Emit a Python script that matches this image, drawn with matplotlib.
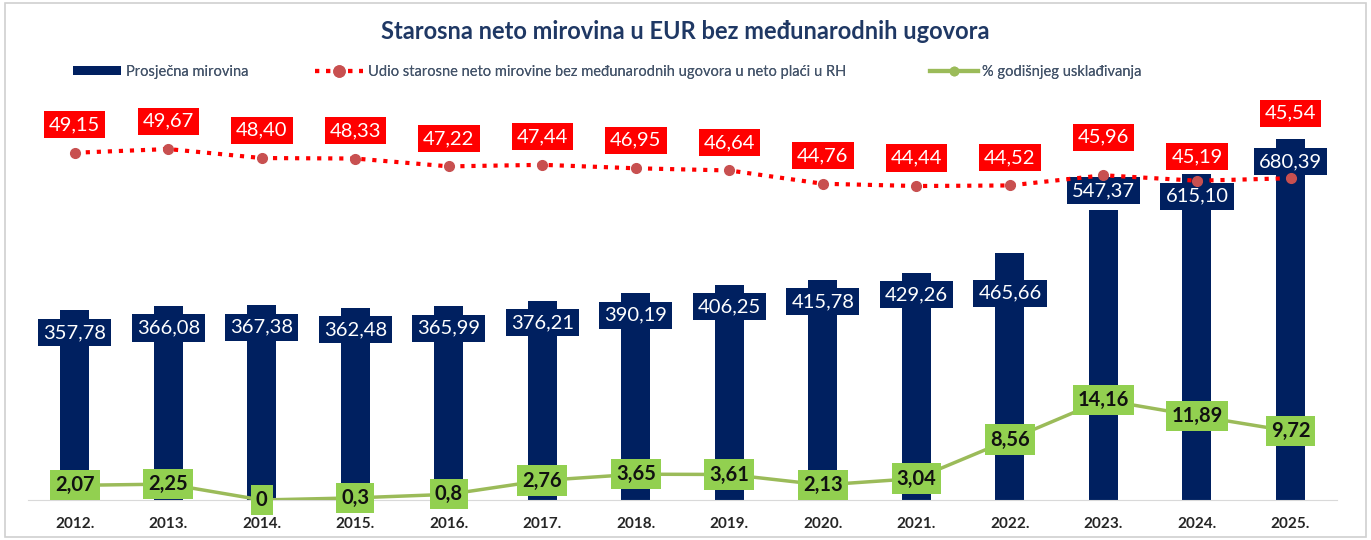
import matplotlib.pyplot as plt
import numpy as np
from matplotlib.lines import Line2D
from matplotlib.patches import Patch, Rectangle

plt.rcParams['font.family'] = ['Lato', 'DejaVu Sans']

godine = ['2012.', '2013.', '2014.', '2015.', '2016.', '2017.', '2018.',
          '2019.', '2020.', '2021.', '2022.', '2023.', '2024.', '2025.']
mirovina = [357.78, 366.08, 367.38, 362.48, 365.99, 376.21, 390.19,
            406.25, 415.78, 429.26, 465.66, 547.37, 615.10, 680.39]
udio = [49.15, 49.67, 48.40, 48.33, 47.22, 47.44, 46.95,
        46.64, 44.76, 44.44, 44.52, 45.96, 45.19, 45.54]
uskladivanje = [2.07, 2.25, 0, 0.3, 0.8, 2.76, 3.65,
                3.61, 2.13, 3.04, 8.56, 14.16, 11.89, 9.72]

def fmt(v):
    return f'{v:.2f}'.replace('.', ',')

def fmt_pct(v):
    if v == 0:
        return '0'
    s = f'{v:.2f}'.rstrip('0').rstrip('.')
    return s.replace('.', ',')

navy = '#002060'
red = '#FF0000'
green = '#92D050'
green_line = '#9BBB59'

fig = plt.figure(figsize=(13.71, 5.40), dpi=100)
fig.patches.append(Rectangle((0.004, 0.006), 0.992, 0.988, transform=fig.transFigure,
                             fill=False, edgecolor='#D0D0D0', linewidth=1.2))
ax = fig.add_axes([0.0204, 0.0741, 0.955, 0.785])
ax2 = ax.twinx()

x = np.arange(len(godine))
ax.bar(x, mirovina, width=0.31, color=navy, zorder=2)
ax.set_ylim(0, 800)
ax.set_xlim(-0.5, len(godine) - 0.5)
ax2.set_ylim(0, 60)

# label nudges in pixels (bar labels from bar top, red labels from marker)
bar_off = [-22] * len(x)
bar_off[10] = -40
bar_off[11] = 19
red_off = [28] * len(x)
red_off[11] = 38
red_off[12] = 24
red_off[13] = 65

px = 72 / 100
for i, v in enumerate(mirovina):
    ax.annotate(fmt(v), (x[i], v), xytext=(0, bar_off[i] * px), textcoords='offset points',
                ha='center', va='center', color='white', fontsize=14.5, zorder=5,
                bbox=dict(boxstyle='square,pad=0.25', fc=navy, ec='none'))

ax2.plot(x, udio, linestyle=':', color=red, linewidth=3, zorder=3)
ax2.plot(x, udio, linestyle='none', marker='o', markersize=7, color='#C85050', zorder=3)
for i, v in enumerate(udio):
    ax2.annotate(fmt(v), (x[i], v), xytext=(0, red_off[i] * px), textcoords='offset points',
                 ha='center', va='center', color='white', fontsize=14.5, zorder=6,
                 bbox=dict(boxstyle='square,pad=0.25', fc=red, ec='none'))

ax2.plot(x, uskladivanje, color=green_line, linewidth=2.5, marker='s', markersize=6,
         zorder=4)
for i, v in enumerate(uskladivanje):
    ax2.annotate(fmt_pct(v), (x[i], v), ha='center', va='center', color='#111111',
                 fontsize=14.5, fontweight='bold', zorder=6,
                 bbox=dict(boxstyle='square,pad=0.25', fc=green, ec='none'))

for a in (ax, ax2):
    for s in a.spines.values():
        s.set_visible(False)
    a.set_yticks([])
ax.spines['bottom'].set_visible(True)
ax.spines['bottom'].set_color('#D9D9D9')
ax.set_xticks(x)
ax.set_xticklabels(godine, fontsize=11, fontweight='bold', color='#262626')
ax.tick_params(axis='x', length=0, pad=12)
ax2.set_zorder(ax.get_zorder() + 1)
ax2.patch.set_visible(False)

fig.text(0.5, 0.941, 'Starosna neto mirovina u EUR bez međunarodnih ugovora', ha='center',
         va='center', fontsize=17, fontweight='bold', color='#1F3864')

leg_y = 1 - 72 / 540
h1 = Patch(facecolor=navy, label='Prosječna mirovina')
h2 = Line2D([], [], linestyle=':', color=red, linewidth=3, marker='o', markersize=8,
            markerfacecolor='#C85050', markeredgecolor='#C85050',
            label='Udio starosne neto mirovine bez međunarodnih ugovora u neto plaći u RH')
h3 = Line2D([], [], color=green_line, linewidth=3, marker='o', markersize=6,
            label='% godišnjeg usklađivanja')
for h, xp in ((h1, 73), (h2, 315), (h3, 930)):
    lg = fig.legend(handles=[h], loc='center left', bbox_to_anchor=(xp / 1371, leg_y),
                    frameon=False, fontsize=10.5, handlelength=3.3, handleheight=0.6,
                    handletextpad=0.3, borderpad=0, borderaxespad=0)
    for t in lg.get_texts():
        t.set_color('#44546A')
    fig.add_artist(lg)

fig.savefig('out.png', dpi=100)
